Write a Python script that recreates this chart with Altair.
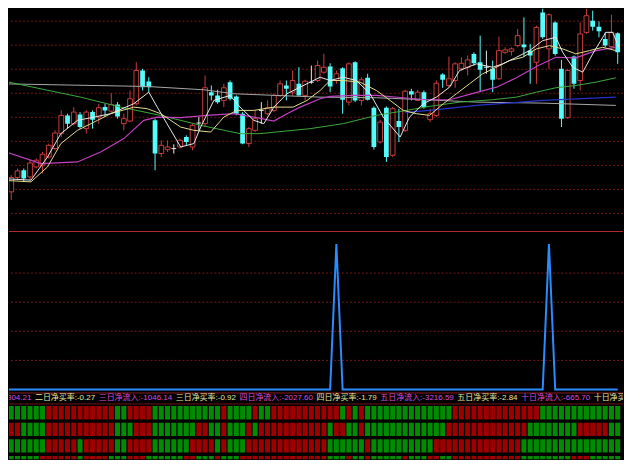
import altair as alt
import pandas as pd

# ---------------- data ----------------
opens = [12.73, 10.83, 12.27, 13.0, 12.33, 13.33, 13.5, 14.33, 15.17, 16.67,
         18.5, 17.67, 18.6, 17.17, 18.83, 18.33, 19.33, 18.93, 19.6, 17.67,
         17.93, 19.67, 23.0, 21.9, 18.0, 14.67, 15.07, 15.17, 15.33, 16.33,
         15.33, 17.73, 17.67, 20.83, 20.5, 20.0, 21.83, 20.4, 18.67, 15.67,
         17.0, 19.0, 18.67, 19.0, 20.5, 21.5, 20.83, 21.67, 20.5, 21.83,
         22.0, 22.83, 23.4, 22.0, 23.23, 19.83, 23.83, 20.0, 22.27, 19.27,
         15.83, 19.27, 14.5, 17.93, 17.0, 20.93, 20.0, 20.83, 18.07, 18.5,
         22.6, 21.5, 22.0, 23.17, 23.33, 24.67, 23.83, 23.33, 23.17, 22.17,
         24.83, 24.93, 25.5, 25.6, 25.0, 23.83, 28.83, 25.17, 27.83, 23.17,
         18.27, 24.4, 22.0, 26.83, 28.0, 27.4, 26.17, 25.4, 26.73]
closes = [10.93, 12.27, 12.93, 12.17, 13.73, 14.0, 14.6, 15.5, 16.73, 18.5,
          17.67, 18.83, 17.33, 18.83, 18.07, 19.27, 19.0, 19.6, 18.4, 18.17,
          20.17, 23.0, 21.33, 21.33, 14.67, 15.5, 15.33, 15.17, 16.0, 15.83,
          17.5, 17.73, 21.27, 20.5, 19.83, 21.27, 20.17, 18.67, 15.67, 17.17,
          18.17, 19.0, 19.27, 20.5, 21.67, 21.17, 22.0, 20.5, 21.93, 21.83,
          23.5, 23.33, 21.4, 22.67, 20.07, 23.67, 20.0, 22.07, 20.07, 15.33,
          17.83, 14.33, 19.17, 17.33, 20.93, 20.6, 20.83, 19.33, 18.67, 21.73,
          22.07, 22.17, 23.67, 23.73, 24.07, 23.73, 23.07, 23.33, 22.07, 25.0,
          25.07, 25.17, 26.5, 25.33, 24.5, 27.33, 26.33, 28.6, 24.67, 18.17,
          23.0, 21.67, 26.67, 28.5, 27.4, 26.93, 25.5, 26.83, 24.83]
highs = [12.83, 12.5, 13.17, 13.17, 14.07, 14.17, 14.83, 15.67, 17.0, 19.0,
         18.67, 19.33, 18.83, 19.0, 19.0, 19.67, 19.67, 20.73, 19.83, 18.67,
         21.0, 23.83, 23.17, 22.33, 18.17, 16.0, 16.0, 15.6, 16.17, 16.5,
         17.67, 18.33, 22.5, 21.5, 21.07, 21.67, 22.0, 20.5, 18.83, 17.33,
         19.0, 19.83, 20.0, 20.67, 22.0, 22.0, 23.0, 23.33, 22.07, 23.5,
         24.0, 24.67, 23.73, 23.0, 23.33, 23.83, 23.93, 22.33, 22.67, 19.4,
         18.07, 19.4, 19.33, 19.17, 21.07, 21.17, 21.07, 21.0, 19.17, 22.0,
         22.73, 24.4, 23.83, 24.33, 24.5, 24.83, 26.5, 25.0, 24.0, 26.4,
         25.33, 25.33, 27.17, 28.33, 25.67, 27.5, 29.4, 28.73, 27.93, 24.07,
         23.17, 24.5, 27.83, 29.67, 29.0, 27.93, 26.83, 28.6, 26.83]
lows = [10.17, 10.0, 12.0, 11.83, 12.0, 13.17, 12.67, 14.17, 15.0, 16.33,
        17.17, 17.5, 17.17, 16.67, 17.17, 17.67, 18.33, 18.67, 18.17, 17.0,
        17.83, 19.5, 21.0, 20.83, 13.0, 14.33, 14.83, 14.67, 15.17, 15.5,
        15.0, 17.0, 17.33, 20.0, 19.67, 19.33, 20.0, 18.5, 15.6, 15.33,
        16.83, 17.67, 18.5, 18.83, 20.33, 20.0, 20.5, 20.5, 20.0, 21.67,
        21.83, 22.67, 20.83, 21.67, 18.67, 19.5, 19.83, 19.5, 20.0, 15.07,
        15.67, 13.83, 14.33, 15.83, 16.83, 20.0, 19.93, 19.17, 17.83, 18.33,
        21.27, 21.27, 21.27, 23.0, 22.5, 23.5, 20.83, 22.67, 20.83, 22.07,
        24.67, 24.5, 25.33, 24.33, 21.67, 21.67, 26.17, 23.17, 24.5, 17.33,
        18.17, 21.17, 21.0, 26.67, 27.0, 26.33, 25.33, 25.33, 23.67]

ma5_idx = [-0.64, 4.15, 6.8, 8.93, 11.59, 14.25, 16.9, 20.6, 23.0, 24.35, 25.9, 28.1,
           30.2, 31.3, 33.4, 36.0, 37.6, 39.8, 41.4, 43.0, 45.1, 47.2, 50.4, 52.0,
           54.1, 56.2, 58.4, 60.5, 63.2, 64.7, 66.9, 69.0, 71.1, 72.7, 75.4, 78.0,
           79.6, 81.8, 83.9, 86.0, 88.1, 89.2, 90.8, 92.4, 94.0, 96.1, 97.2, 98.2]
ma5_val = [12.17, 12.0, 14.33, 16.67, 18.0, 18.33, 18.67, 19.67, 20.83, 19.33, 17.67, 15.33,
           15.67, 17.33, 20.0, 20.5, 19.33, 18.0, 17.67, 19.33, 20.67, 21.33, 22.33, 22.0,
           22.33, 22.0, 20.67, 18.33, 16.33, 18.33, 19.67, 20.33, 21.33, 23.0, 23.67, 23.33,
           23.67, 24.33, 25.0, 26.0, 26.33, 24.83, 23.33, 22.83, 24.67, 26.83, 26.83, 25.33]
ma10_idx = [-0.64, 4.15, 6.8, 8.93, 11.59, 14.8, 16.9, 20.6, 22.75, 24.9, 28.1, 30.2,
            32.9, 35.0, 37.1, 39.8, 43.0, 46.1, 48.3, 50.4, 52.0, 54.1, 56.8, 59.4,
            61.6, 63.7, 65.8, 67.9, 70.1, 72.2, 74.3, 76.4, 78.6, 80.7, 82.8, 85.0,
            87.1, 89.2, 91.3, 93.5, 95.6, 97.7]
ma10_val = [12.0, 11.83, 13.33, 15.67, 17.0, 18.0, 18.67, 19.33, 19.17, 18.67, 17.33, 17.0,
            16.83, 18.33, 19.0, 19.0, 19.33, 19.33, 20.0, 21.0, 22.0, 22.0, 21.83, 21.0,
            20.0, 19.0, 18.67, 18.5, 19.67, 20.67, 21.67, 22.67, 23.33, 24.0, 24.33, 25.17,
            25.5, 25.17, 24.67, 25.0, 25.33, 25.0]
ma20_idx = [-0.64, 5.74, 11.59, 15.3, 19.0, 22.2, 24.35, 28.1, 32.3, 36.6, 39.8, 43.0,
            45.1, 47.2, 50.4, 52.0, 55.7, 59.4, 63.7, 67.4, 71.1, 74.3, 78.6, 81.8,
            85.0, 88.1, 91.3, 94.5, 97.7]
ma20_val = [15.0, 13.67, 13.83, 14.83, 16.17, 18.0, 18.33, 18.27, 18.5, 18.67, 18.33, 17.93,
            18.67, 19.33, 20.17, 20.4, 20.5, 20.5, 20.27, 20.07, 20.07, 20.6, 21.33, 22.27,
            23.4, 24.33, 24.27, 25.0, 25.33]
ma60_idx = [-0.64, 12.1, 18.5, 24.9, 31.3, 37.6, 40.8, 48.8, 54.1, 59.4, 62.6, 67.9,
            72.7, 78.0, 81.8, 85.0, 88.1, 91.3, 94.5, 97.7]
ma60_val = [22.0, 20.33, 19.33, 18.5, 17.5, 16.67, 16.67, 17.17, 17.67, 18.5, 18.83, 19.4,
            19.83, 20.07, 20.33, 20.83, 21.27, 21.5, 21.83, 22.27]
ma120_idx = [-0.64, 22.75, 31.8, 36.6, 50.4, 59.4, 67.4, 75.4, 86.0, 97.7]
ma120_val = [21.67, 21.4, 21.07, 20.67, 20.33, 20.27, 20.07, 19.83, 19.73, 19.5]
ma250_idx = [64.0, 67.9, 75.4, 86.0, 97.7]
ma250_val = [18.8, 19.0, 19.5, 20.0, 20.33]

price_grid = [8.67, 11.08, 13.49, 15.9, 18.31, 20.72, 23.13, 25.54, 27.95]

net_signal = [0] * 53 + [100] + [0] * 33 + [100] + [0] * 11
signal_grid = [20, 40, 60, 80]

heat_row1 = ("G" * 7 + "R" * 11 + "G" * 2 + "R" * 4 + "G" * 11 + "R" + "G" * 4 + "R" + "G" * 2
             + "R" * 11 + "G" + "R" + "G" + "R" + "G" * 14 + "R" * 14 + "G" * 13)
heat_row2 = ("G" + "R" * 2 + "G" * 4 + "R" * 11 + "G" * 3 + "R" * 3 + "G" * 7 + "R" * 2 + "G" * 2
             + "R" + "G" * 3 + "R" + "G" + "R" * 11 + "G" + "R" * 2 + "G" * 2 + "R" + "G" * 13
             + "R" * 13 + "G" * 8 + "R" * 5 + "G" * 2)
heat_row3 = ("R" + "G" * 6 + "R" * 5 + "G" + "R" * 5 + "G" * 2 + "R" * 4 + "G" * 6 + "R" * 4 + "G"
             + "R" + "G" * 3 + "R" * 13 + "G" * 6 + "R" + "G" * 10 + "R" * 14 + "G" * 16)
heat_row4 = ("R" + "G" * 5 + "R" * 6 + "G" + "R" * 4 + "G" * 3 + "R" * 3 + "G" * 6 + "R" * 2 + "G" * 3
             + "R" + "G" * 3 + "R" * 14 + "G" * 3 + "R" + "G" * 2 + "R" + "G" * 5 + "R" + "G" * 3
             + "R" * 2 + "G" * 2 + "R" * 11 + "G" * 8 + "R" * 3 + "G" * 5)

label_names = ["一日净流入", "二日净买率", "三日净流入", "三日净买率", "四日净流入",
               "四日净买率", "五日净流入", "五日净买率", "十日净流入", "十日净买率"]
label_values = ["-304.21", "-0.27", "-1046.14", "-0.92", "-2027.60",
                "-1.79", "-3216.59", "-2.84", "-665.70", ""]

# ---------------- layout / style ----------------
W = 616
HA, HB, HC = 223, 174, 55
STEP = 6.2724
X_DOM = [4 / STEP, 620 / STEP]
UP, DOWN, FLAT = "#C83C3C", "#54FCFC", "#E6E6E6"
GRID = "#761818"
FONT = "Liberation Sans, Noto Sans CJK SC"
IN_COLOR, RATE_COLOR = "#D84CD8", "#E6E6A0"
HEAT_G, HEAT_R = "#008C00", "#9E0000"

xs = alt.Scale(domain=X_DOM, nice=False, zero=False)
ysA = alt.Scale(domain=[6.9, 29.2], nice=False, zero=False)
ysB = alt.Scale(domain=[-10.27, 108.9], nice=False, zero=False)
ysC = alt.Scale(domain=[0, 3.3], nice=False, zero=False, reverse=True)

n = len(opens)
cdf = pd.DataFrame({"i": list(range(n)), "o": opens, "c": closes, "h": highs, "l": lows})
cdf["x0"] = cdf["i"] - 0.38
cdf["x1"] = cdf["i"] + 0.38
cdf["kind"] = ["up" if c > o else ("down" if c < o else "flat") for o, c in zip(opens, closes)]


def wicks(kind, color):
    return alt.Chart(cdf[cdf.kind == kind]).mark_rule(color=color, strokeWidth=1, clip=True).encode(
        x=alt.X("i:Q", scale=xs, axis=None),
        y=alt.Y("l:Q", scale=ysA, axis=None), y2="h:Q")


grid_a = alt.Chart(pd.DataFrame({"g": price_grid})).mark_rule(
    color=GRID, strokeDash=[2, 2], strokeWidth=1).encode(y=alt.Y("g:Q", scale=ysA, axis=None))

body_up = alt.Chart(cdf[cdf.kind == "up"]).mark_rect(
    fill="black", stroke=UP, strokeWidth=1, clip=True).encode(
    x=alt.X("x0:Q", scale=xs, axis=None), x2="x1:Q",
    y=alt.Y("o:Q", scale=ysA, axis=None), y2="c:Q")
body_down = alt.Chart(cdf[cdf.kind == "down"]).mark_rect(fill=DOWN, clip=True).encode(
    x=alt.X("x0:Q", scale=xs, axis=None), x2="x1:Q",
    y=alt.Y("o:Q", scale=ysA, axis=None), y2="c:Q")
body_flat = alt.Chart(cdf[cdf.kind == "flat"]).mark_rule(color=FLAT, strokeWidth=1, clip=True).encode(
    x=alt.X("x0:Q", scale=xs, axis=None), x2="x1:Q",
    y=alt.Y("o:Q", scale=ysA, axis=None))


def ma_line(idx, val, color, width=1.0):
    d = pd.DataFrame({"i": idx, "v": val})
    return alt.Chart(d).mark_line(color=color, strokeWidth=width, clip=True).encode(
        x=alt.X("i:Q", scale=xs, axis=None),
        y=alt.Y("v:Q", scale=ysA, axis=None), order="i:Q")


panel_a = alt.layer(
    grid_a,
    wicks("up", UP), wicks("down", DOWN), wicks("flat", FLAT),
    body_up, body_down, body_flat,
    ma_line(ma120_idx, ma120_val, "#A8A8A8"),
    ma_line(ma250_idx, ma250_val, "#2632C8", 1.3),
    ma_line(ma60_idx, ma60_val, "#3CAA3C"),
    ma_line(ma20_idx, ma20_val, "#C040C0", 1.2),
    ma_line(ma10_idx, ma10_val, "#E0DC8C"),
    ma_line(ma5_idx, ma5_val, "#E8E8E8"),
).properties(width=W, height=HA)

# ---- indicator panel ----
sdf = pd.DataFrame({"i": list(range(n)), "v": net_signal})
grid_b = alt.Chart(pd.DataFrame({"g": signal_grid})).mark_rule(
    color=GRID, strokeDash=[2, 2], strokeWidth=1).encode(y=alt.Y("g:Q", scale=ysB, axis=None))
sig_line = alt.Chart(sdf).mark_line(color="#2A8CFF", strokeWidth=2, clip=True).encode(
    x=alt.X("i:Q", scale=xs, axis=None), y=alt.Y("v:Q", scale=ysB, axis=None))
top_border = alt.Chart(pd.DataFrame({"a": [0]})).mark_rule(color="#B02A2A", strokeWidth=1).encode(
    y=alt.value(0.5))
mid_border = alt.Chart(pd.DataFrame({"a": [0]})).mark_rule(color="#8C1E1E", strokeWidth=1).encode(
    y=alt.value(162.5))
low_border = alt.Chart(pd.DataFrame({"a": [0]})).mark_rule(color="#6E1414", strokeWidth=1).encode(
    y=alt.value(173.5))

FS = 8.0


def text_width(s):
    w = 0.0
    for ch in s:
        if ord(ch) > 0x2E80:
            w += FS
        elif ch in ".:":
            w += 0.278 * FS
        elif ch == "-":
            w += 0.333 * FS
        else:
            w += 0.556 * FS
    return w


GAP = 3.5
texts = [nm + ":" + vl for nm, vl in zip(label_names, label_values)]
start = 34 - GAP - text_width(texts[0])
rows = []
for t in texts:
    rows.append({"t": t, "xi": (start - 4) / STEP, "inflow": "流入" in t})
    start += text_width(t) + GAP
tdf = pd.DataFrame(rows)


def label_layer(flag, color):
    return alt.Chart(tdf[tdf.inflow == flag]).mark_text(
        align="left", baseline="middle", font=FONT, fontSize=FS, color=color, clip=True).encode(
        x=alt.X("xi:Q", scale=xs, axis=None), y=alt.value(167.5), text="t:N")


panel_b = alt.layer(grid_b, top_border, sig_line, mid_border,
                    label_layer(True, IN_COLOR), label_layer(False, RATE_COLOR),
                    low_border).properties(width=W, height=HB)

# ---- heat strip ----
hrows = [heat_row1, heat_row2, heat_row3, heat_row4]
for r in hrows:
    assert len(r) == n, len(r)
hdf = pd.DataFrame([{"i": i, "r": r, "s": s[i]} for r, s in enumerate(hrows) for i in range(n)])
hdf["x0"] = hdf["i"] - 0.4
hdf["x1"] = hdf["i"] + 0.4
hdf["y0"] = hdf["r"] + 0.1
hdf["y1"] = hdf["r"] + 0.9


def heat_layer(state, color):
    return alt.Chart(hdf[hdf.s == state]).mark_rect(color=color, clip=True).encode(
        x=alt.X("x0:Q", scale=xs, axis=None), x2="x1:Q",
        y=alt.Y("y0:Q", scale=ysC, axis=None), y2="y1:Q")


panel_c = alt.layer(heat_layer("G", HEAT_G), heat_layer("R", HEAT_R)).properties(width=W, height=HC)

chart = alt.vconcat(panel_a, panel_b, panel_c, spacing=0).properties(
    padding=0, background="black").configure_view(strokeWidth=0).configure_concat(spacing=0)

chart.save("out.html", embed_options={"renderer": "svg", "actions": False})
